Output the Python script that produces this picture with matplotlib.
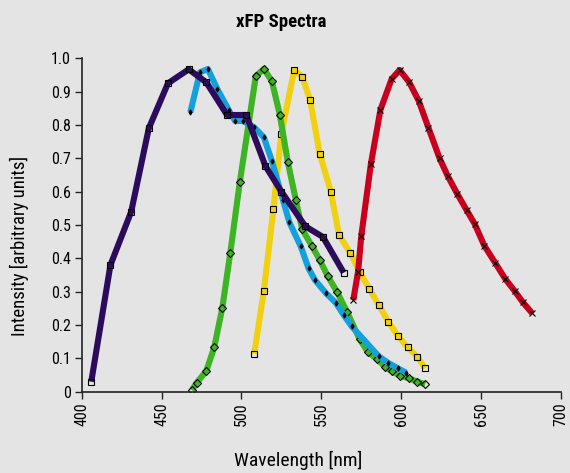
import matplotlib
matplotlib.use("Agg")
import matplotlib.pyplot as plt
from matplotlib import font_manager

BG = "#e4e4e4"

# wavelength [nm] / intensity per protein
purple_x = [406, 418, 431, 442, 454, 467, 478, 491, 503, 515, 525, 540, 551, 564]
purple_y = [0.03, 0.38, 0.54, 0.79, 0.925, 0.967, 0.928, 0.83, 0.83, 0.677, 0.60, 0.496, 0.464, 0.357]

blue_x = [468, 474, 479, 485, 492, 496, 501, 508, 514, 519, 526, 530, 537, 542, 546, 553, 559, 564, 569,
          586, 592, 598, 603]
blue_y = [0.838, 0.958, 0.968, 0.907, 0.845, 0.812, 0.812, 0.793, 0.763, 0.693, 0.575, 0.508, 0.437, 0.370,
          0.335, 0.295, 0.267, 0.230, 0.196, 0.106, 0.086, 0.070, 0.057]

green_x = [469, 472, 478, 483, 488, 493, 499, 509, 514, 519, 524, 529, 534, 538, 544, 549, 554, 560, 566,
           574, 579, 585, 590, 594, 599, 605, 610, 615]
green_y = [0.005, 0.027, 0.062, 0.134, 0.251, 0.416, 0.630, 0.947, 0.968, 0.932, 0.831, 0.689, 0.576, 0.487,
           0.438, 0.395, 0.347, 0.298, 0.240, 0.157, 0.120, 0.097, 0.074, 0.062, 0.048, 0.040, 0.030, 0.022]

yellow_x = [508, 514, 520, 525, 533, 538, 543, 549, 556, 561, 568, 574, 580, 586, 592, 598, 604, 610, 615]
yellow_y = [0.114, 0.302, 0.548, 0.774, 0.964, 0.945, 0.875, 0.713, 0.599, 0.471, 0.417, 0.359, 0.309,
            0.260, 0.209, 0.167, 0.133, 0.105, 0.070]

red_x = [570, 573, 575, 581, 587, 594, 599, 605, 611, 617, 624, 629, 635, 641, 646, 652, 659, 665, 671,
         676, 682]
red_y = [0.275, 0.360, 0.467, 0.683, 0.846, 0.938, 0.965, 0.928, 0.872, 0.792, 0.700, 0.648, 0.594, 0.544,
         0.503, 0.438, 0.385, 0.339, 0.302, 0.269, 0.235]

x_ticks = [400, 450, 500, 550, 600, 650, 700]
y_ticks = [0, 0.1, 0.2, 0.3, 0.4, 0.5, 0.6, 0.7, 0.8, 0.9, 1.0]
y_tick_labels = ["0", "0.1", "0.2", "0.3", "0.4", "0.5", "0.6", "0.7", "0.8", "0.9", "1.0"]


def pick_font(candidates):
    names = {f.name for f in font_manager.fontManager.ttflist}
    for name in candidates:
        if name in names:
            return name
    return "DejaVu Sans"


FONT = pick_font(["Liberation Sans Narrow", "DejaVu Sans Condensed", "Roboto Condensed", "Roboto"])
plt.rcParams["font.family"] = [FONT, "DejaVu Sans"]

fig = plt.figure(figsize=(5.7, 4.73), dpi=100, facecolor=BG)
ax = fig.add_axes([0.1433, 0.1719, 0.8409, 0.7048], facecolor=BG)

lw = 4.4
series = [
    (yellow_x, yellow_y, "#f0d010", "s", 3.8, "none"),
    (red_x, red_y, "#c8001e", "x", 4.5, "none"),
    (green_x, green_y, "#3cb424", "D", 3.8, "none"),
    (blue_x, blue_y, "#14a0dc", "d", 2.6, "black"),
    (purple_x, purple_y, "#2d0b5c", "s", 3.8, "none"),
]
for xs, ys, color, marker, ms, face in series:
    ax.plot(xs, ys, color=color, linewidth=lw, solid_capstyle="butt",
            marker=marker, markersize=ms, markerfacecolor=face,
            markeredgecolor="black", markeredgewidth=0.8)

ax.set_xlim(400, 700)
ax.set_ylim(0, 1.0)
ax.set_xticks(x_ticks)
ax.set_xticklabels([str(t) for t in x_ticks], rotation=90, fontsize=11.5)
ax.set_yticks(y_ticks)
ax.set_yticklabels(y_tick_labels, fontsize=11.5)
ax.tick_params(direction="out", length=5, width=1, color="#222222", pad=3)
for side in ("top", "right"):
    ax.spines[side].set_visible(False)
for side in ("left", "bottom"):
    ax.spines[side].set_linewidth(1.2)
    ax.spines[side].set_color("#222222")

ax.set_xlabel("Wavelength [nm]", fontsize=14)
ax.xaxis.set_label_coords(0.451, -0.205)
ax.set_ylabel("Intensity [arbitrary units]", fontsize=13.5)
ax.yaxis.set_label_coords(-0.129, 0.437)
ax.xaxis.label.set_va("center")
ax.yaxis.label.set_va("center")
fig.text(0.493, 1 - 22 / 473, "xFP Spectra", ha="center", va="center",
         fontsize=13.5, fontweight="bold")

fig.savefig("out.png", dpi=100, facecolor=BG)
